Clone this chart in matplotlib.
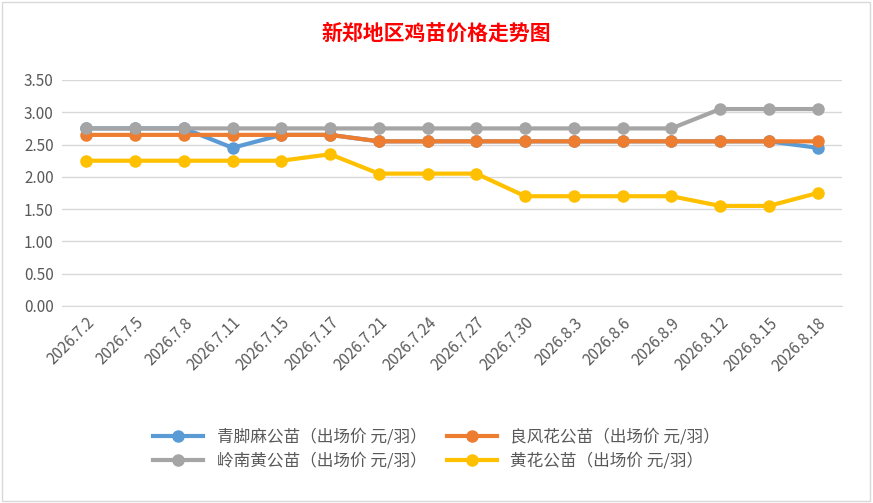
import matplotlib
matplotlib.use("Agg")
import matplotlib.pyplot as plt
from matplotlib.patches import Rectangle

plt.rcParams['font.family'] = ['Noto Sans CJK SC', 'DejaVu Sans']

dates = ['2026.7.2', '2026.7.5', '2026.7.8', '2026.7.11', '2026.7.15', '2026.7.17',
         '2026.7.21', '2026.7.24', '2026.7.27', '2026.7.30', '2026.8.3', '2026.8.6',
         '2026.8.9', '2026.8.12', '2026.8.15', '2026.8.18']
qingjiao = [2.75, 2.75, 2.75, 2.45, 2.65, 2.65, 2.55, 2.55, 2.55, 2.55, 2.55, 2.55, 2.55, 2.55, 2.55, 2.45]
liangfeng = [2.65, 2.65, 2.65, 2.65, 2.65, 2.65, 2.55, 2.55, 2.55, 2.55, 2.55, 2.55, 2.55, 2.55, 2.55, 2.55]
lingnan = [2.75, 2.75, 2.75, 2.75, 2.75, 2.75, 2.75, 2.75, 2.75, 2.75, 2.75, 2.75, 2.75, 3.05, 3.05, 3.05]
huanghua = [2.25, 2.25, 2.25, 2.25, 2.25, 2.35, 2.05, 2.05, 2.05, 1.70, 1.70, 1.70, 1.70, 1.55, 1.55, 1.75]

series = [
    ('青脚麻公苗（出场价 元/羽）', qingjiao, '#5b9bd5'),
    ('良风花公苗（出场价 元/羽）', liangfeng, '#ed7d31'),
    ('岭南黄公苗（出场价 元/羽）', lingnan, '#a5a5a5'),
    ('黄花公苗（出场价 元/羽）', huanghua, '#ffc000'),
]

fig = plt.figure(figsize=(8.73, 5.03), dpi=100)
ax = fig.add_axes([62 / 873, 1 - 306 / 503, 780 / 873, 226 / 503])
x = range(len(dates))
lines = []
for name, vals, color in series:
    ln, = ax.plot(x, vals, color=color, lw=3, marker='o', ms=8, label=name)
    lines.append(ln)

ax.set_ylim(0, 3.5)
ax.set_yticks([i * 0.5 for i in range(8)])
ax.set_yticklabels([f'{i * 0.5:.2f}' for i in range(8)], fontsize=11, color='#595959')
ax.set_xlim(-0.5, len(dates) - 0.5)
ax.set_xticks(list(x))
ax.set_xticklabels(dates, rotation=45, ha='right', rotation_mode='anchor', fontsize=11, color='#595959')
ax.grid(axis='y', color='#d9d9d9', lw=1)
ax.set_axisbelow(True)
for s in ['top', 'right', 'left']:
    ax.spines[s].set_visible(False)
ax.spines['bottom'].set_color('#d9d9d9')
ax.tick_params(length=0, pad=6)

fig.text(0.5, 1 - 33 / 503, '新郑地区鸡苗价格走势图', ha='center', va='center',
         fontsize=15, fontweight='bold', color='#ff0000')
# row-wise order: column 1 = blue, grey; column 2 = orange, yellow
order = [0, 2, 1, 3]
fig.legend([lines[i] for i in order], [series[i][0] for i in order],
           loc='center', bbox_to_anchor=(0.5, 1 - 449 / 503), ncol=2, frameon=False,
           fontsize=12, labelcolor='#595959', columnspacing=1.2, handlelength=3,
           labelspacing=0.4)
fig.patches.append(Rectangle((0.002, 0.003), 0.995, 0.994, transform=fig.transFigure,
                             fill=False, ec='#d9d9d9', lw=1))
fig.savefig('out.png', dpi=100)
